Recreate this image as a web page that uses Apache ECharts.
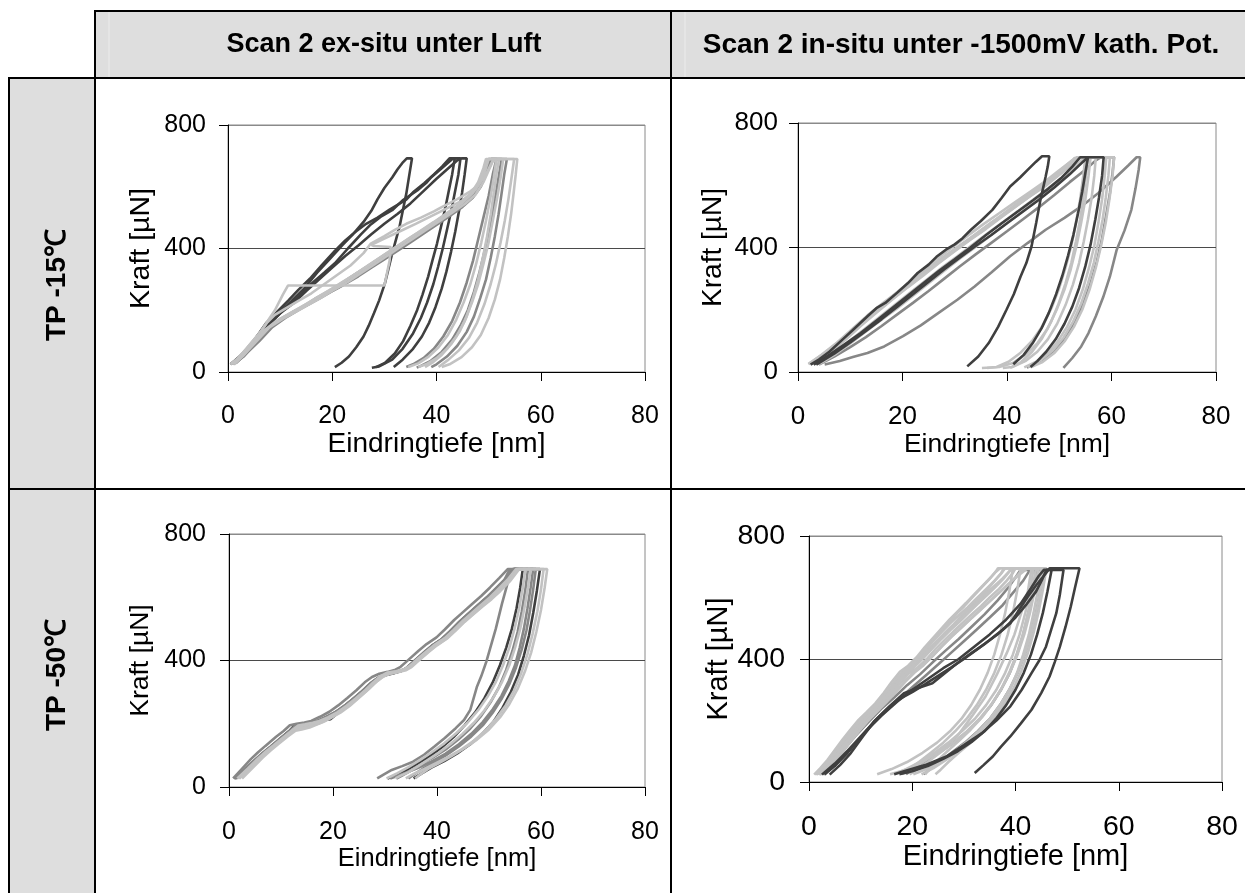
<!DOCTYPE html>
<html>
<head>
<meta charset="utf-8">
<script src="https://cdn.jsdelivr.net/npm/echarts@6/dist/echarts.min.js"></script>
<style>
html,body{margin:0;padding:0;background:#fff;}
#chart{width:1245px;height:893px;}
</style>
</head>
<body>
<div id="chart"></div>
<script>
// Table captions
const columnTitles = ['Scan 2 ex-situ unter Luft', 'Scan 2 in-situ unter -1500mV kath. Pot.'];
const rowTitles = ['TP -15℃', 'TP -50℃'];
const xTitle = 'Eindringtiefe [nm]';
const yTitle = 'Kraft [µN]';
const depthTicks = [0, 20, 40, 60, 80];
const forceTicks = [0, 400, 800];

// ---- TP -15°C, ex-situ (depth nm, force µN) ----
const tlDark1 = [[0.5,25],[2,45],[4,82],[6.7,140],[9,178],[12.2,230],[14.5,268],[17.1,322],[19.5,366],[21.9,410],[24,447],[26,486],[27.5,522],[28.7,560],[30,596],[31.5,630],[32.5,656],[33.6,680],[34.3,692],[35.3,692],[34.8,640],[34.2,577],[33.5,520],[32.9,470],[31.5,384],[30.1,287],[29,232],[28,190],[27,150],[26,115],[24.6,80],[23.2,50],[21.8,30],[20.5,16]];
const tlDark2 = [[0.5,25],[3,62],[5,102],[7.4,160],[9.5,196],[11.6,232],[13.5,266],[15.7,302],[18,346],[20.5,392],[22.5,426],[24.6,456],[26.5,480],[28.7,500],[31,526],[33,546],[34.2,558],[35.5,582],[37.7,612],[39.5,640],[41.1,666],[42.5,692],[43.5,692],[43,640],[42.4,590],[41.8,540],[41,480],[40.1,416],[39.2,360],[38.4,309],[37.3,250],[36.3,201],[35,150],[33.6,100],[32,60],[30.1,29],[28.4,16]];
const tlDark3 = [[1,25],[3.5,66],[6,116],[8.5,165],[11,206],[13.5,242],[16,286],[18.5,322],[20.5,352],[23,400],[25.5,446],[27.4,478],[29.5,505],[31.5,524],[33.5,556],[36.3,588],[38,612],[39,631],[41,660],[43.2,692],[44.6,692],[44.2,640],[43.5,580],[42.8,520],[42,460],[41.2,400],[40.3,340],[39.4,285],[38.2,225],[37,175],[35.5,125],[33.5,75],[31.5,40],[29,18],[27.6,14]];
const tlDark4 = [[1,28],[4,76],[7,140],[10,190],[12.5,222],[15,262],[17.5,300],[20,338],[22.5,376],[25,410],[27.5,446],[30,480],[32.5,512],[35,546],[37.5,586],[40,626],[42,656],[44,686],[44.8,692],[45.8,692],[45.4,640],[44.9,580],[44.3,520],[43.6,455],[42.8,390],[41.9,325],[41,270],[39.8,210],[38.6,160],[37.2,115],[35.5,75],[33.5,40],[31.8,16]];
const tlMid1 = [[1,25],[3,50],[5,90],[7.5,135],[10,170],[12.5,195],[15,215],[17.5,238],[20,262],[22.5,285],[25,310],[27.5,338],[30,365],[32.5,392],[35,420],[37.5,448],[40,476],[42.5,505],[45,535],[47,565],[48.5,600],[49.5,640],[50.5,690],[52.5,690],[52,640],[51.4,580],[50.7,510],[50,450],[49.2,390],[48.2,320],[47.2,260],[46,200],[44.6,150],[43,105],[41,65],[38.8,35],[37,20],[36.2,14]];
const tlMid2 = [[1.5,28],[3.5,60],[6,100],[8.5,145],[11,175],[13.5,200],[16,225],[18.5,250],[21,272],[23.5,298],[26,325],[28.5,352],[31,380],[33.5,410],[36,438],[38.5,466],[41,495],[43.5,525],[46,555],[48,595],[49.5,650],[50.5,690],[53.5,690],[53,640],[52.5,580],[51.9,510],[51.2,440],[50.4,370],[49.5,300],[48.4,240],[47.2,180],[45.8,130],[44,85],[42,50],[40,25],[39,16]];
const tlMid3 = [[0.8,26],[2.5,48],[5,95],[7,130],[9.5,165],[12,190],[14.5,212],[17,240],[19.5,262],[22,290],[24.5,318],[27,345],[29.5,372],[32,400],[34.5,428],[37,455],[39.5,483],[42,512],[44.5,540],[46.5,570],[48,610],[49.5,660],[50,690],[51.5,690],[50.8,640],[50,570],[49,500],[48,430],[47,360],[45.8,290],[44.5,225],[43,165],[41.3,115],[39.5,75],[37.5,45],[35.5,25],[34.2,16]];
const tlLight1 = [[0.8,25],[2.5,55],[4.5,95],[6.5,135],[8,175],[9,200],[10.5,250],[11.5,280],[20,280],[30,280],[30.5,320],[31,360],[31.2,405],[28,408],[27.5,412],[30,432],[33,456],[36,480],[39,505],[42,530],[45,556],[47.5,590],[49,632],[50,690],[52,690],[51.5,640],[51,580],[50.4,510],[49.7,440],[48.9,370],[48,300],[47,240],[45.8,180],[44.4,130],[42.8,90],[41,55],[39.2,30],[37.8,16]];
const tlLight2 = [[0.5,25],[2,45],[4,85],[6,125],[7.5,160],[9,185],[11,205],[13.5,230],[16,255],[18.5,285],[21,315],[23.5,345],[26,385],[27.4,416],[30,440],[32,460],[34.2,480],[37,500],[39.5,520],[41,534],[44,560],[46.5,585],[48,605],[49.5,640],[50.8,685],[51.5,690],[54.9,690],[54.4,630],[53.8,560],[53.1,490],[52.3,420],[51.4,350],[50.4,285],[49.2,220],[47.8,160],[46.2,110],[44.3,70],[42.3,40],[40.4,16]];
const tlLight3 = [[1.2,25],[3,55],[5.5,100],[8,145],[10.5,172],[13,195],[15.5,218],[18,242],[20.5,268],[23,292],[25.5,320],[28,348],[30.5,376],[33,404],[35.5,432],[38,460],[40.5,488],[43,516],[45.5,545],[47.5,575],[49,615],[50.2,660],[51,690],[55.5,690],[55.2,640],[54.8,580],[54.3,510],[53.7,440],[53,370],[52.2,300],[51.2,235],[50,175],[48.5,120],[46.8,80],[44.8,48],[42.5,25],[41,16]];
const tlLight4 = [[0.6,27],[2.5,50],[4.5,90],[7,135],[9.5,168],[12,190],[14.5,215],[17,240],[19.5,265],[22,292],[24.5,318],[27,346],[29.5,374],[32,402],[34.5,430],[37,458],[39.5,486],[42,515],[44.5,545],[46.5,575],[48,615],[49,660],[49.5,690],[52.8,690],[52.3,630],[51.6,560],[50.8,490],[50,420],[49,350],[48,285],[46.8,225],[45.4,165],[43.8,115],[42,75],[40,45],[38,25],[36.5,16]];
const tlLight5 = [[1,25],[3,55],[5,95],[7.5,140],[10,172],[12.5,196],[15,220],[17.5,246],[20,270],[22.5,296],[25,324],[27.5,352],[30,380],[32.5,408],[35,436],[37.5,462],[40,490],[42.5,518],[45,548],[47,580],[48.5,625],[49.5,670],[50,690],[51.5,690],[51,630],[50.3,560],[49.5,490],[48.6,420],[47.6,350],[46.5,285],[45.2,225],[43.8,170],[42.2,120],[40.4,80],[38.5,50],[36.5,28],[34.6,16]];

// ---- TP -15°C, in-situ ----
const trDark1 = [[2.4,24],[4,40],[6,65],[8.5,104],[10.5,135],[13.3,179],[15,205],[16.7,222],[19,255],[21,285],[22.9,318],[25,345],[26.5,370],[28.3,393],[30,410],[31.5,430],[33.1,457],[35,485],[37.2,521],[39,560],[40.6,596],[42.5,625],[44,650],[45.5,675],[46.7,693],[48.1,693],[47.8,660],[47.4,628],[46.9,590],[46.4,553],[45.6,480],[44.7,404],[43.7,350],[42.6,307],[41.3,250],[39.9,200],[38.3,145],[36.5,93],[34.5,50],[32.4,18]];
const trDark2 = [[3,24],[6,55],[9,90],[12,125],[15,165],[18,205],[21,245],[24,285],[27,325],[30,362],[33,400],[36,440],[39,478],[42,515],[45,552],[48,590],[50.5,625],[52.5,660],[54,690],[55.5,690],[55,640],[54.4,580],[53.6,510],[52.7,440],[51.7,375],[50.6,310],[49.4,250],[48,190],[46.6,140],[45,95],[43.2,55],[41.2,25]];
const trDark3 = [[3.5,24],[7,60],[10,95],[13,132],[16,170],[19,210],[22,250],[25,290],[28,330],[31,368],[34,405],[37,440],[40,478],[43,515],[46,552],[49,592],[52,635],[54.5,675],[55.5,690],[58.5,690],[58.2,630],[57.6,560],[56.9,490],[56,410],[55,340],[53.8,270],[52.5,210],[51,155],[49.3,105],[47.5,65],[45.8,35],[44.5,16]];
const trMid1 = [[5.1,24],[8,35],[10.5,48],[13.3,61],[16.5,82],[20.1,115],[23.5,150],[26.9,190],[30.5,232],[33.8,275],[37,320],[40.6,372],[44,415],[47.4,457],[51,495],[54.2,532],[57.5,575],[61,628],[63.3,665],[64.8,690],[65.5,690],[65.2,650],[64.6,590],[63.8,521],[62.5,455],[61,393],[59.7,307],[58.4,240],[57,179],[55.6,125],[54.2,82],[52.5,45],[50.8,13]];
const trMid2 = [[4,24],[7,50],[10,80],[13,112],[16,148],[19,185],[22,222],[25,260],[28,300],[31,340],[34,378],[37,415],[40,452],[43,490],[46,528],[49,568],[52,610],[55,650],[57,680],[58,690],[60.5,690],[60.2,640],[59.7,575],[59,505],[58.2,430],[57.2,355],[56,285],[54.6,220],[53,160],[51.2,110],[49.2,70],[47,40],[45,22],[43.8,14]];
const trLight1 = [[2,25],[4.5,55],[7.5,95],[10.5,140],[13.3,182],[16.5,225],[20.1,270],[23.5,315],[26.9,358],[30,395],[33.8,440],[37,480],[40.6,520],[44,560],[47.4,598],[50.5,640],[52.9,687],[55.5,690],[55.1,630],[54.6,560],[54,490],[53.2,420],[52.3,350],[51.2,285],[49.9,220],[48.4,160],[46.7,108],[44.8,65],[42.7,32],[40.6,13]];
const trLight2 = [[2.5,25],[5,55],[8,95],[11,140],[14,180],[17,220],[20,260],[23,300],[26,340],[29,378],[32,415],[35,450],[38,488],[41,525],[44,562],[47,598],[50,635],[53,672],[54.2,690],[59.7,690],[59.4,630],[58.9,560],[58.3,490],[57.5,420],[56.6,350],[55.5,285],[54.2,220],[52.6,160],[50.8,110],[48.8,70],[46.6,40],[44,16]];
const trLight3 = [[3,25],[6,60],[9,102],[12,148],[15,190],[18,232],[21,272],[24,310],[27,350],[30,388],[33,425],[36,460],[39,498],[42,535],[45,572],[48,610],[51,650],[53,680],[54,690],[57,690],[56.7,630],[56.2,560],[55.5,490],[54.7,420],[53.8,350],[52.6,280],[51.2,215],[49.6,155],[47.8,105],[45.8,65],[43.5,35],[41,16],[39.2,13]];
const trLight4 = [[2,26],[5,60],[8,100],[11,145],[14,188],[17,228],[20,268],[23,305],[26,345],[29,382],[32,418],[35,455],[38,492],[41,530],[44,568],[47,605],[50,645],[52.5,680],[53.5,690],[56,690],[55.6,630],[55,555],[54.2,480],[53.3,405],[52.2,330],[51,265],[49.5,200],[47.8,140],[45.8,92],[43.5,55],[41,28],[38.5,16],[35.2,13]];
const trLight5 = [[3.5,25],[6.5,58],[9.5,95],[12.5,135],[15.5,175],[18.5,215],[21.5,255],[24.5,295],[27.5,335],[30.5,372],[33.5,410],[36.5,448],[39.5,485],[42.5,522],[45.5,560],[48.5,598],[51.5,638],[54,675],[55,690],[59,690],[58.7,630],[58.2,555],[57.5,480],[56.7,405],[55.7,335],[54.5,265],[53.1,200],[51.5,145],[49.7,98],[47.7,60],[45.5,32],[43.3,15]];
const trLight6 = [[4,25],[7,55],[10,92],[13,130],[16,168],[19,205],[22,245],[25,285],[28,325],[31,365],[34,402],[37,440],[40,478],[43,516],[46,555],[49,595],[52,638],[54.5,675],[55.5,690],[60.5,690],[60.2,630],[59.6,555],[58.9,480],[58,405],[57,335],[55.8,265],[54.4,200],[52.8,145],[51,98],[49,60],[46.8,32],[44.5,15]];
const trLight7 = [[2.5,25],[5.5,62],[8.5,105],[11.5,150],[14.5,192],[17.5,235],[20.5,278],[23.5,320],[26.5,362],[29.5,400],[32.5,438],[35.5,475],[38.5,510],[41.5,545],[44.5,580],[47.5,615],[50,648],[52.5,680],[53.5,690],[55,690],[54.6,630],[54,555],[53.2,480],[52.3,405],[51.2,335],[50,270],[48.5,205],[46.8,148],[44.8,100],[42.6,62],[40.3,33],[38,16],[36.2,13]];

// ---- TP -50°C, ex-situ ----
const blMid1 = [[1,27],[3,56],[5,86],[6.5,108],[8,128],[10,156],[11.5,175],[12.7,193],[14,198],[15.5,202],[16.8,207],[18.5,220],[20.3,235],[22,254],[23.7,277],[25.5,302],[27.1,327],[28.5,344],[29.9,354],[31.5,360],[33,367],[34,375],[35.5,397],[37.4,425],[39,447],[40.9,468],[42.5,493],[44.3,523],[46,548],[47.7,573],[49.5,599],[51.2,626],[53,656],[54,689],[54.3,689],[53.5,640],[52.5,580],[51.3,500],[49.5,397],[48.5,350],[47.7,318],[46.4,244],[45.2,212],[43.6,186],[41.5,155],[39.5,128],[37.5,102],[35.4,80],[33.3,66],[31.3,54],[29.8,40],[28.5,27]];
const blMid2 = [[1.5,27],[3.5,60],[5.5,92],[7,112],[8.5,132],[10.5,160],[12,180],[13.2,197],[14.5,195],[16,200],[17.5,212],[19,224],[20.8,240],[22.5,260],[24.2,283],[26,308],[27.6,332],[29,347],[30.5,356],[32,362],[33.5,370],[34.5,380],[36,402],[37.9,428],[39.5,450],[41.4,472],[43,497],[44.8,527],[46.5,552],[48.2,578],[50,604],[51.7,632],[53.5,662],[55,689],[58.5,689],[58,630],[57.4,565],[56.7,500],[55.9,440],[55,385],[53.8,335],[52.4,288],[50.7,245],[48.8,205],[46.6,168],[44.2,135],[41.6,105],[38.9,80],[36.3,60],[34,45],[32.2,34],[31,27]];
const blMid3 = [[1.2,27],[3.2,58],[5.2,88],[6.8,110],[8.3,130],[10.2,158],[11.8,178],[13,196],[14.3,200],[15.8,205],[17.2,210],[18.8,222],[20.6,238],[22.3,258],[24,280],[25.8,305],[27.4,330],[28.8,346],[30.2,355],[31.8,362],[33.3,368],[34.3,378],[35.8,400],[37.7,427],[39.3,449],[41.2,470],[42.8,495],[44.6,525],[46.3,550],[48,576],[49.8,602],[51.5,629],[53.3,659],[54.8,689],[57.5,689],[57,625],[56.3,555],[55.5,490],[54.5,430],[53.3,370],[51.9,315],[50.3,268],[48.5,225],[46.4,185],[44.1,150],[41.6,118],[39.1,92],[36.8,70],[34.8,50],[33.2,35],[32.2,27]];
const blMid4 = [[0.8,27],[2.4,56],[4.2,88],[5.6,110],[7,130],[9,158],[10.5,177],[11.7,195],[13,200],[14.5,204],[15.8,209],[17.5,222],[19.3,238],[21,258],[22.7,281],[24.5,306],[26.1,331],[27.5,348],[28.9,358],[30.5,364],[32,371],[33,380],[34.5,402],[36.4,430],[38,452],[39.9,473],[41.5,498],[43.3,528],[45,553],[46.7,578],[48.5,604],[50.2,631],[52,661],[53.6,689],[59,689],[58.5,625],[57.9,560],[57.2,495],[56.3,435],[55.2,378],[53.9,325],[52.4,278],[50.7,235],[48.8,195],[46.6,160],[44.2,128],[41.7,100],[39.3,77],[37.2,57],[35.6,40],[34.5,27]];
const blDark1 = [[1,26],[3,55],[5,85],[6.5,107],[8,127],[10,155],[11.5,176],[12.7,196],[14,200],[15.5,203],[16.8,206],[18,210],[19.5,214],[20.3,225],[22,252],[23.7,276],[25.5,300],[27.1,325],[28.5,343],[29.9,353],[31.5,359],[33,366],[34,373],[35.5,396],[37.4,424],[39,446],[40.9,467],[42.5,492],[44.3,522],[46,547],[47.7,572],[49.5,598],[51.2,625],[53,655],[54.6,689],[59.8,689],[59.2,620],[58.5,550],[57.7,480],[56.7,415],[55.6,355],[54.2,300],[52.6,250],[50.8,205],[48.7,168],[46.4,135],[43.9,106],[41.4,82],[39,62],[37,42],[35.5,27]];
const blDark2 = [[1.3,27],[3.3,57],[5.3,88],[6.8,110],[8.3,130],[10.3,157],[11.8,177],[13,194],[14.3,199],[15.8,203],[17.1,208],[18.8,221],[20.6,236],[22.3,255],[24,278],[25.8,303],[27.4,328],[28.8,345],[30.2,355],[31.8,361],[33.3,368],[34.3,376],[35.8,398],[37.7,426],[39.3,448],[41.2,469],[42.8,494],[44.6,524],[46.3,549],[48,574],[49.8,600],[51.5,627],[53.3,657],[54.9,689],[56.5,689],[56,630],[55.3,565],[54.4,500],[53.3,440],[52.1,385],[50.7,330],[49.1,280],[47.3,235],[45.3,195],[43.2,158],[40.9,125],[38.5,96],[36.1,72],[33.9,52],[32,37],[30.5,27]];
const blLight1 = [[2,27],[4,60],[6,92],[7.5,114],[9,134],[10.8,160],[12.3,178],[13.5,186],[15,190],[16.4,196],[17.6,203],[19.3,218],[21,234],[22.8,255],[24.5,280],[26.2,305],[27.8,330],[29.3,350],[30.7,360],[32.2,365],[33.6,370],[34.7,380],[36.2,404],[38.1,430],[39.7,451],[41.6,472],[43.2,496],[45,526],[46.7,550],[48.4,575],[50.2,600],[51.9,628],[53.7,658],[55.2,689],[61.2,689],[60.7,630],[60,560],[59.1,490],[58.1,425],[56.9,365],[55.5,310],[53.9,262],[52.1,220],[50,182],[47.7,150],[45.2,122],[42.7,97],[40.3,75],[38.3,57],[36.8,40],[35.8,27]];
const blLight2 = [[1.6,27],[3.6,58],[5.6,90],[7.1,112],[8.6,132],[10.6,159],[12.1,179],[13.3,194],[14.6,198],[16.1,203],[17.4,209],[19.1,221],[20.9,237],[22.6,257],[24.3,279],[26.1,304],[27.7,330],[29.1,350],[30.5,362],[32.1,366],[33.6,372],[34.6,381],[36.1,401],[38,428],[39.6,449],[41.5,470],[43.1,494],[44.9,523],[46.6,547],[48.3,571],[50.1,596],[51.8,622],[53.6,650],[55.4,689],[60.5,689],[60,625],[59.3,555],[58.4,485],[57.4,420],[56.2,360],[54.8,305],[53.2,258],[51.4,217],[49.4,180],[47.2,148],[44.8,120],[42.3,96],[39.8,75],[37.6,57],[35.6,42],[34,27]];
const blLight3 = [[2.5,27],[4.5,60],[6.5,93],[8,115],[9.5,136],[11.3,160],[12.8,178],[14,182],[15.5,188],[17,198],[18.2,206],[19.8,220],[21.5,236],[23.2,256],[25,282],[26.8,308],[28.3,332],[29.7,350],[31,358],[32.5,363],[34,369],[35,378],[36.5,400],[38.4,427],[40,448],[41.9,469],[43.5,493],[45.3,522],[47,546],[48.7,570],[50.5,594],[52.2,620],[54,650],[55.8,689],[58,689],[57.5,630],[56.8,565],[56,500],[55,440],[53.9,385],[52.5,332],[50.9,285],[49.1,242],[47.1,203],[44.9,168],[42.6,136],[40.3,108],[38.1,84],[36.1,63],[34.3,45],[33,36],[32,27]];
const blLight4 = [[1.8,27],[3.8,59],[5.8,91],[7.3,113],[8.8,133],[10.8,160],[12.3,180],[13.5,192],[14.8,196],[16.3,201],[17.6,207],[19.3,219],[21.1,235],[22.8,255],[24.5,277],[26.3,302],[27.9,327],[29.3,345],[30.7,358],[32.3,364],[33.8,370],[34.8,379],[36.3,399],[38.2,426],[39.8,447],[41.7,468],[43.3,492],[45.1,521],[46.8,545],[48.5,569],[50.3,594],[52,620],[53.8,648],[55.6,689],[57,689],[56.5,630],[55.8,565],[54.9,500],[53.9,440],[52.7,385],[51.3,332],[49.7,285],[47.9,243],[45.9,204],[43.7,170],[41.4,138],[39,110],[36.7,85],[34.5,63],[32.4,44],[30.3,27]];

// ---- TP -50°C, in-situ ----
const brDark1 = [[4,24],[6,55],[8.1,94],[10.5,150],[12.9,202],[15.5,245],[18.4,289],[21,305],[23.9,321],[26,350],[28.7,386],[31.5,420],[34.2,451],[36.5,480],[39,516],[40.5,555],[42.4,603],[44,640],[45.9,679],[46.6,695],[52.4,695],[51.5,630],[50.7,570],[49.7,505],[48.6,440],[47.6,390],[46.6,343],[45,290],[43.1,235],[41,190],[39,148],[37.2,115],[35.6,83],[33.8,55],[32.1,29]];
const brDark2 = [[3,24],[5,52],[7.5,95],[10,145],[12.5,195],[15,235],[17.5,270],[20,292],[22.5,318],[25,345],[27.5,372],[30,400],[32.5,430],[35,462],[37.5,495],[40,535],[42,575],[44,620],[45.2,660],[46,690],[49.3,690],[48.6,610],[47.9,549],[46.9,495],[45.9,440],[44.6,395],[43.1,354],[41.2,300],[39,246],[36.3,200],[33.5,159],[30,120],[26.6,83],[22.5,55],[18.4,35],[16.5,25]];
const brDark3 = [[2.5,24],[5,60],[8,110],[11,165],[14,215],[17,260],[20,300],[23,335],[26,370],[29,400],[32,440],[35,480],[38,525],[41,580],[43,630],[44.5,670],[45.5,690],[47,690],[46.2,620],[45.3,550],[44.2,480],[43,415],[41.6,355],[40,300],[38.2,250],[36.2,205],[34,165],[31.5,130],[28.8,100],[26,75],[23,52],[20,35],[17.5,25]];
const brMid1 = [[2,24],[4,55],[6.5,100],[9,150],[11.5,195],[14,238],[16.5,275],[19,315],[21.5,350],[24,390],[26.5,428],[29,465],[31.5,505],[34,545],[36.5,590],[38.5,630],[40,665],[41,690],[44,690],[43.3,620],[42.5,550],[41.5,480],[40.3,415],[38.9,355],[37.2,300],[35.3,250],[33.1,205],[30.7,165],[28,128],[25.2,95],[22.5,65],[20.2,42],[18.8,25]];
const brMid2 = [[2.8,24],[5,58],[7.5,102],[10,148],[12.5,192],[15,232],[17.5,270],[20,308],[22.5,345],[25,382],[27.5,420],[30,458],[32.5,496],[35,535],[37.5,575],[39.5,615],[41.5,655],[42.8,690],[45.5,690],[44.8,620],[44,550],[43,480],[41.8,415],[40.4,355],[38.8,300],[37,250],[35,205],[32.7,165],[30.2,128],[27.6,95],[25.3,65],[23.5,42],[22.2,25]];
const brLight1 = [[1.2,24],[2.5,45],[4,72],[5.5,105],[7,140],[8.5,170],[10.2,202],[11.5,222],[13,250],[15,280],[16.5,312],[18.4,365],[20,378],[21.5,405],[23,440],[24.5,470],[26,498],[27.5,525],[28.7,549],[30,570],[31.5,598],[33,625],[34.5,652],[36,680],[37,695],[39.5,695],[38.8,620],[38,550],[37,480],[35.9,415],[34.6,355],[33.1,300],[31.4,250],[29.5,205],[27.3,165],[24.8,128],[22,95],[19,65],[16,42],[13.2,25]];
const brLight2 = [[1.8,24],[3.2,48],[4.8,80],[6.3,115],[8,150],[9.5,182],[11,210],[12.8,238],[14.5,265],[16.2,300],[18,340],[19.5,362],[21,385],[22.8,420],[24.5,452],[26.2,482],[28,512],[29.5,540],[31,565],[32.8,595],[34.5,625],[36,655],[37.3,680],[38,695],[43.1,695],[42.4,620],[41.1,549],[39.8,480],[38.3,419],[36.4,350],[34.2,278],[31.6,215],[28.7,148],[25.3,100],[21.8,62],[18.5,38],[15.7,25]];
const brLight3 = [[2.2,24],[3.8,50],[5.5,85],[7,118],[8.8,155],[10.5,190],[12.2,220],[14,250],[15.8,282],[17.5,318],[19.3,352],[21,372],[22.8,400],[24.5,432],[26.3,462],[28,490],[29.8,518],[31.5,545],[33.3,572],[35,600],[36.8,628],[38.3,655],[39.5,680],[40,695],[45,695],[44.3,620],[43.5,550],[42.6,480],[41.5,415],[40.3,355],[38.9,300],[37.3,250],[35.5,205],[33.5,165],[31.3,128],[29,95],[27,65],[25.5,40],[24.5,25]];
const brLight4 = [[1.5,24],[3,50],[4.5,80],[6,115],[7.8,152],[9.5,188],[11.2,218],[13,248],[14.8,280],[16.5,318],[18.2,350],[20,375],[21.8,405],[23.5,438],[25.3,468],[27,496],[28.8,525],[30.5,552],[32.3,580],[34,608],[35.8,636],[37.5,662],[38.8,685],[39.3,695],[46,695],[45.3,625],[44.5,555],[43.5,485],[42.4,420],[41.1,360],[39.6,305],[37.9,255],[36,210],[33.8,170],[31.4,133],[28.9,100],[26.4,70],[24.1,45],[21.8,25]];
const brLight5 = [[1,24],[2.2,45],[3.6,72],[5,104],[6.5,138],[8,170],[9.6,202],[11.2,228],[12.8,255],[14.5,290],[16,325],[17.6,358],[19.2,378],[20.8,405],[22.4,438],[24,468],[25.6,498],[27.2,528],[28.8,555],[30.4,582],[32,610],[33.6,638],[35.2,665],[36.2,685],[36.6,695],[41,695],[40.3,620],[39.5,550],[38.5,480],[37.3,415],[35.9,355],[34.3,300],[32.5,250],[30.5,205],[28.3,165],[26,128],[23.6,95],[21.3,65],[19.4,42],[18,25]];
const brLight6 = [[2.6,24],[4.2,52],[6,90],[7.8,128],[9.6,165],[11.4,200],[13.2,230],[15,260],[16.8,292],[18.6,325],[20.4,355],[22.2,380],[24,410],[25.8,442],[27.6,472],[29.4,500],[31.2,528],[33,556],[34.8,584],[36.6,612],[38.4,640],[40,665],[41.3,688],[41.8,695],[45.5,695],[44.8,620],[44,550],[43,480],[41.8,415],[40.4,355],[38.8,300],[37,250],[35,205],[32.8,165],[30.4,128],[27.9,95],[25.4,65],[22.8,42],[20.2,25]];
const brLight7 = [[1.4,24],[2.8,48],[4.3,78],[5.8,112],[7.4,148],[9,182],[10.6,212],[12.3,240],[14,270],[15.6,305],[17.2,340],[18.9,368],[20.5,392],[22.2,424],[23.9,456],[25.6,486],[27.3,515],[29,542],[30.7,568],[32.4,596],[34.1,624],[35.8,652],[37.2,678],[37.8,695],[43.5,695],[42.8,620],[41.9,550],[40.8,480],[39.5,415],[38,355],[36.3,300],[34.3,250],[32.1,205],[29.6,165],[27,128],[24.3,95],[21.5,65],[18.8,42],[16.5,25]];
const brLight8 = [[2,24],[3.6,50],[5.2,84],[6.8,120],[8.5,156],[10.2,192],[11.9,222],[13.6,252],[15.3,284],[17,320],[18.8,354],[20.5,376],[22.2,404],[24,436],[25.7,466],[27.4,494],[29.2,522],[30.9,550],[32.6,578],[34.4,606],[36.1,634],[37.6,660],[38.8,684],[39.2,695],[44,695],[43.3,625],[42.5,555],[41.5,485],[40.3,420],[38.9,360],[37.3,305],[35.5,255],[33.5,210],[31.3,170],[29,133],[26.8,100],[24.9,70],[23.5,45],[22.5,25]];
const brLight9 = [[3,24],[4.6,55],[6.3,92],[8,130],[9.8,168],[11.6,202],[13.4,234],[15.2,266],[17,298],[18.8,332],[20.6,362],[22.4,385],[24.2,414],[26,446],[27.8,476],[29.6,504],[31.4,532],[33.2,560],[35,588],[36.8,616],[38.6,644],[40.3,668],[41.8,688],[42.3,695],[44.5,695],[43.7,620],[42.8,550],[41.7,480],[40.4,415],[38.9,355],[37.2,300],[35.2,250],[33,205],[30.6,165],[28,128],[25.4,95],[23,65],[21,42],[19.5,25]];

// Curves of each panel, in drawing order, with their shade
const panelCurves = [
  [[tlDark1,'dark'],[tlDark2,'dark'],[tlDark3,'dark'],[tlDark4,'dark'],[tlMid1,'mid'],[tlMid2,'mid'],[tlMid3,'mid'],[tlLight1,'light'],[tlLight2,'light'],[tlLight3,'light'],[tlLight4,'light'],[tlLight5,'light']],
  [[trMid1,'mid'],[trMid2,'mid'],[trLight1,'light'],[trLight2,'light'],[trLight3,'light'],[trLight4,'light'],[trLight5,'light'],[trLight6,'light'],[trLight7,'light'],[trDark2,'dark'],[trDark3,'dark'],[trDark1,'dark']],
  [[blDark1,'dark'],[blDark2,'dark'],[blMid1,'mid'],[blMid2,'mid'],[blMid3,'mid'],[blMid4,'mid'],[blLight1,'light'],[blLight2,'light'],[blLight3,'light'],[blLight4,'light']],
  [[brMid1,'mid'],[brMid2,'mid'],[brLight1,'light'],[brLight2,'light'],[brLight3,'light'],[brLight4,'light'],[brLight5,'light'],[brLight6,'light'],[brLight7,'light'],[brLight8,'light'],[brLight9,'light'],[brDark3,'dark'],[brDark2,'dark'],[brDark1,'dark']]
];

// ---- presentation ----
const shade = { dark: '#3f3f3f', mid: '#878787', light: '#c2c2c2' };
const FONT = "'Liberation Sans', Arial, Helvetica, sans-serif";

// plot box of each panel and its text spacing
const panelLayout = [
  { left: 228, top: 125, width: 417, height: 247, tick: 25, xName: 28, yName: 28.5, xMargin: 32, xGap: 55, yMargin: 22, yGap: 72 },
  { left: 798, top: 123, width: 418, height: 249, tick: 26, xName: 26.5, yName: 28, xMargin: 32, xGap: 56, yMargin: 20, yGap: 71 },
  { left: 229, top: 534, width: 416, height: 253, tick: 25, xName: 25.5, yName: 26.5, xMargin: 33, xGap: 55, yMargin: 23, yGap: 75 },
  { left: 809, top: 536, width: 413, height: 246, tick: 28.5, xName: 29, yName: 29, xMargin: 31, xGap: 49, yMargin: 24, yGap: 73 }
];

const grids = [], xAxes = [], yAxes = [], series = [];
panelLayout.forEach((p, i) => {
  grids.push({
    left: p.left, top: p.top, width: p.width, height: p.height,
    show: true, borderColor: '#8a8a8a', borderWidth: 1, backgroundColor: 'transparent',
    containLabel: false
  });
  xAxes.push({
    gridIndex: i, type: 'value',
    min: depthTicks[0], max: depthTicks[depthTicks.length - 1],
    interval: depthTicks[1] - depthTicks[0],
    name: xTitle, nameLocation: 'middle', nameGap: p.xGap,
    nameTextStyle: { fontFamily: FONT, fontSize: p.xName, color: '#000' },
    axisLine: { show: true, onZero: false, lineStyle: { color: '#000', width: 1 } },
    axisTick: { show: true, inside: false, length: 9, lineStyle: { color: '#000', width: 1 } },
    axisLabel: { margin: p.xMargin, fontFamily: FONT, fontSize: p.tick, color: '#000' },
    splitLine: { show: false }
  });
  yAxes.push({
    gridIndex: i, type: 'value',
    min: forceTicks[0], max: forceTicks[forceTicks.length - 1],
    interval: forceTicks[1] - forceTicks[0],
    name: yTitle, nameLocation: 'middle', nameGap: p.yGap, nameRotate: 90,
    nameTextStyle: { fontFamily: FONT, fontSize: p.yName, color: '#000' },
    axisLine: { show: true, onZero: false, lineStyle: { color: '#000', width: 1 } },
    axisTick: { show: true, inside: false, length: 9, lineStyle: { color: '#000', width: 1 } },
    axisLabel: { margin: p.yMargin, fontFamily: FONT, fontSize: p.tick, color: '#000' },
    splitLine: { show: true, lineStyle: { color: ['#000', '#4a4a4a', '#8a8a8a'], width: 1 } }
  });
  panelCurves[i].forEach(([pts, tone]) => {
    series.push({
      type: 'line', xAxisIndex: i, yAxisIndex: i,
      data: pts, showSymbol: false, symbol: 'none', smooth: false,
      lineStyle: { color: shade[tone], width: 2.6 },
      z: 2, silent: true, animation: false
    });
  });
});

// table frame, header shading and captions
const BORDER = { stroke: '#000', lineWidth: 2 };
const graphic = [
  { type: 'rect', shape: { x: 95, y: 11, width: 1160, height: 67 }, style: { fill: '#dedede' }, z: 0 },
  { type: 'rect', shape: { x: 9, y: 78, width: 86, height: 830 }, style: { fill: '#dedede' }, z: 0 },
  { type: 'line', shape: { x1: 109, y1: 12, x2: 109, y2: 77 }, style: { stroke: '#ececec', lineWidth: 1 }, z: 1 },
  { type: 'line', shape: { x1: 685, y1: 12, x2: 685, y2: 77 }, style: { stroke: '#ececec', lineWidth: 1 }, z: 1 },
  { type: 'line', shape: { x1: 94, y1: 11, x2: 1245, y2: 11 }, style: BORDER, z: 5 },
  { type: 'line', shape: { x1: 8, y1: 78, x2: 1245, y2: 78 }, style: BORDER, z: 5 },
  { type: 'line', shape: { x1: 8, y1: 489, x2: 1245, y2: 489 }, style: BORDER, z: 5 },
  { type: 'line', shape: { x1: 9, y1: 77, x2: 9, y2: 893 }, style: BORDER, z: 5 },
  { type: 'line', shape: { x1: 95, y1: 10, x2: 95, y2: 893 }, style: BORDER, z: 5 },
  { type: 'line', shape: { x1: 671, y1: 10, x2: 671, y2: 893 }, style: BORDER, z: 5 },
  { type: 'text', x: 384, y: 45, style: { text: columnTitles[0], font: "bold 27px " + FONT, fill: '#000', textAlign: 'center', textVerticalAlign: 'middle' }, z: 6 },
  { type: 'text', x: 961, y: 45, style: { text: columnTitles[1], font: "bold 28px " + FONT, fill: '#000', textAlign: 'center', textVerticalAlign: 'middle' }, z: 6 },
  { type: 'text', x: 57, y: 285, rotation: Math.PI / 2, style: { text: rowTitles[0], font: "bold 28px " + FONT, fill: '#000', textAlign: 'center', textVerticalAlign: 'middle' }, z: 6 },
  { type: 'text', x: 57, y: 675, rotation: Math.PI / 2, style: { text: rowTitles[1], font: "bold 28px " + FONT, fill: '#000', textAlign: 'center', textVerticalAlign: 'middle' }, z: 6 }
];

const chart = echarts.init(document.getElementById('chart'), null, { renderer: 'canvas', width: 1245, height: 893 });
chart.setOption({
  animation: false,
  backgroundColor: '#fff',
  grid: grids, xAxis: xAxes, yAxis: yAxes, series: series,
  graphic: graphic
});
</script>
</body>
</html>
